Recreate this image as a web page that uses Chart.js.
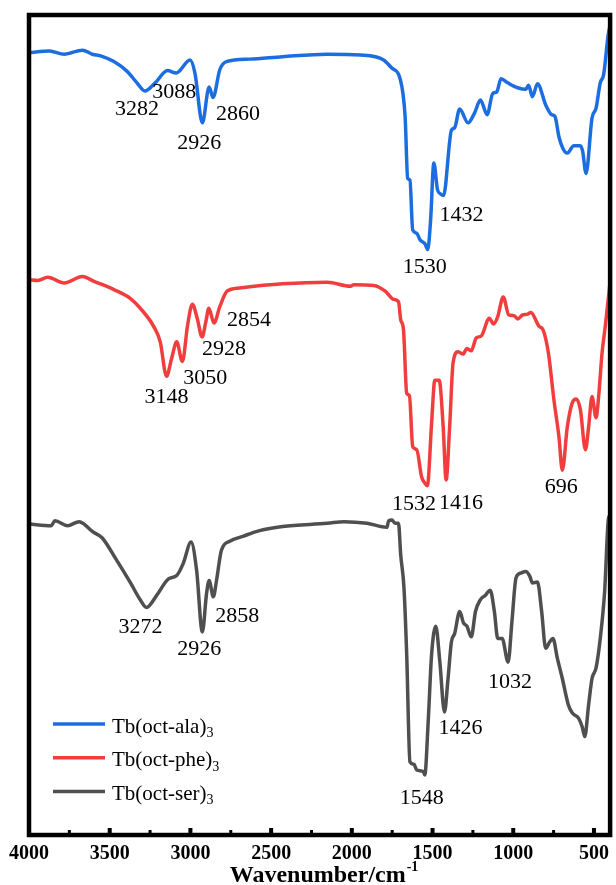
<!DOCTYPE html>
<html>
<head>
<meta charset="utf-8">
<script src="https://cdn.jsdelivr.net/npm/chart.js@4/dist/chart.umd.min.js"></script>
<style>
  html, body { margin: 0; padding: 0; background: #ffffff; }
  canvas { display: block; }
</style>
</head>
<body>
<canvas id="ir" width="616" height="885"></canvas>
<script>
// FT-IR spectra of the three terbium complexes (offset transmittance, a.u.)
const wavenumberAla = [4000,3874,3782,3669,3608,3556,3474,3392,3331,3282,3218,3142,3088,3002,2972,2926,2884,2860,2818,2777,2633,2429,2152,1947,1803,1752,1701,1670,1654,1640,1623,1598,1578,1547,1530,1512,1492,1469,1450,1432,1383,1363,1332,1280,1240,1203,1162,1127,1102,1076,1034,973,922,905,881,850,799,762,742,717,693,665,625,584,570,549,512,487,461,440,413,400];
const transAla = [95.5,95.7,95.3,95.8,95.3,95.1,94.4,93.2,91.8,90.8,91.8,93.3,93.0,94.6,93.0,86.9,91.3,90.0,93.4,94.4,94.7,95.0,95.3,95.2,94.6,93.6,92.3,87.7,80.1,79.9,73.8,73.4,72.6,72.1,71.4,75.0,82.0,78.7,78.2,78.0,86.0,86.3,88.6,86.9,88.1,89.7,87.9,90.5,90.7,92.3,91.8,91.2,91.0,91.5,90.1,91.7,89.1,87.9,87.7,85.2,83.8,83.2,84.1,84.1,83.4,80.7,87.5,88.7,91.8,92.8,97.5,98.9];

const wavenumberPhe = [4000,3946,3884,3782,3669,3597,3474,3371,3310,3228,3187,3148,3116,3085,3050,3017,2988,2958,2928,2904,2886,2854,2818,2773,2695,2429,2152,2009,1988,1865,1793,1742,1711,1697,1680,1660,1643,1623,1598,1568,1547,1532,1506,1486,1459,1434,1416,1394,1373,1342,1311,1287,1260,1229,1199,1148,1123,1096,1062,1028,994,973,942,911,891,840,816,782,748,717,696,665,635,610,584,553,533,512,487,471,450,430,405,400];
const transPhe = [67.7,67.6,68.0,67.3,68.1,67.5,66.5,65.4,64.2,62.0,60.1,55.9,58.1,60.1,57.7,62.2,64.7,63.0,60.7,62.6,64.2,62.4,64.4,66.3,66.7,67.2,67.4,66.9,67.1,67.0,66.3,65.3,65.0,62.8,61.6,53.8,53.5,47.3,46.9,43.6,42.8,42.5,50.1,55.4,55.4,49.7,43.2,49.7,57.5,58.9,58.6,59.3,59.0,60.6,60.8,63.0,62.3,63.2,65.6,63.4,63.3,62.9,63.4,63.5,63.7,62.0,61.6,58.7,53.0,48.5,44.4,49.7,52.6,53.1,51.8,46.9,49.7,53.4,50.8,53.4,58.7,62.0,66.5,67.5];

const wavenumberSer = [4000,3863,3839,3761,3689,3659,3608,3546,3464,3371,3310,3272,3208,3136,3085,3044,2996,2962,2926,2900,2884,2858,2839,2808,2756,2675,2572,2429,2152,2049,1906,1783,1772,1752,1732,1711,1697,1677,1660,1640,1615,1598,1557,1548,1527,1506,1480,1455,1426,1404,1383,1363,1332,1308,1287,1260,1234,1205,1172,1143,1117,1096,1069,1032,1008,983,953,922,897,881,850,824,799,774,754,727,696,659,635,594,573,557,533,512,487,461,434,410,400];
const transSer = [37.8,37.6,38.2,37.6,38.1,37.8,36.9,36.1,33.6,30.6,28.5,27.6,29.1,31.1,31.5,33.0,35.6,32.2,24.6,29.3,30.9,28.9,30.8,34.6,35.7,36.3,37.0,37.5,37.9,38.1,37.9,37.4,38.2,38.3,37.9,37.9,34.0,30.0,21.8,8.7,8.4,7.7,7.5,7.1,13.6,21.8,25.3,21.0,14.8,18.9,23.4,24.4,27.1,25.7,25.3,24.0,27.1,28.5,29.1,29.7,27.1,23.8,23.8,20.9,25.9,31.2,31.8,32.0,31.4,30.6,30.7,27.1,22.6,23.4,23.8,21.4,18.9,15.7,14.7,14.0,13.0,11.8,15.7,18.9,20.2,23.8,29.5,38.5,38.9];

// Assigned band positions (cm-1)
const peaksAla = [3282, 3088, 2926, 2860, 1530, 1432];
const peaksPhe = [3148, 3050, 2928, 2854, 1532, 1416, 696];
const peaksSer = [3272, 2926, 2858, 1548, 1426, 1032];

const seriesNames = ['Tb(oct-ala)', 'Tb(oct-phe)', 'Tb(oct-ser)'];
const seriesSubscript = '3';
const seriesColors = ['#1c6ee0', '#f03e3e', '#4f4f4f'];

const majorTicks = [4000, 3500, 3000, 2500, 2000, 1500, 1000, 500];
const minorTicks = [3750, 3250, 2750, 2250, 1750, 1250, 750];

// Pixel offsets of each band label from its band minimum
const labelOffsets = [
  [[-8, 18.5], [-2, 19.5], [-3, 20.6], [25, 16.5], [-3, 18], [18, 20.1]],
  [[0, 21], [23, 16.6], [22, 12], [35, -2.5], [-13.5, 18.3], [15, 23.3], [-1, 17.5]],
  [[-6, 20.2], [-3, 17.5], [24, 19], [-3, 23], [16, 15.8], [2, 20.2]]
];

const toPoints = (xs, ys) => xs.map((v, i) => ({ x: v, y: ys[i] }));
const peakSets = [peaksAla, peaksPhe, peaksSer];
const spectra = [
  toPoints(wavenumberAla, transAla),
  toPoints(wavenumberPhe, transPhe),
  toPoints(wavenumberSer, transSer)
];

const SERIF = '"Liberation Serif", "Times New Roman", serif';

const decor = {
  id: 'irDecor',
  afterDatasetsDraw(chart) {
    const { ctx, chartArea: a, scales } = chart;
    const x = scales.x, y = scales.y;
    ctx.save();

    // band labels
    ctx.font = '22px ' + SERIF;
    ctx.fillStyle = '#000';
    ctx.textAlign = 'center';
    ctx.textBaseline = 'middle';
    chart.data.datasets.forEach((ds, i) => {
      peakSets[i].forEach((wn, j) => {
        const pt = ds.data.find(p => p.x === wn);
        const [dx, dy] = labelOffsets[i][j];
        ctx.fillText(String(wn), x.getPixelForValue(wn) + dx, y.getPixelForValue(pt.y) + dy);
      });
    });

    // frame
    ctx.lineWidth = 4.5;
    ctx.strokeStyle = '#000';
    ctx.strokeRect(a.left, a.top, a.right - a.left, a.bottom - a.top);

    // inward tick marks
    ctx.fillStyle = '#000';
    majorTicks.forEach(v => {
      const px = x.getPixelForValue(v);
      ctx.fillRect(px - 2, a.bottom - 2 - 5, 4, 5);
    });
    minorTicks.forEach(v => {
      const px = x.getPixelForValue(v);
      ctx.fillRect(px - 1.5, a.bottom - 2 - 3, 3, 3);
    });

    // legend
    const lx = a.left + 24, ly = a.bottom - 111, step = 33.7;
    chart.data.datasets.forEach((ds, i) => {
      const yy = ly + i * step;
      ctx.strokeStyle = ds.borderColor;
      ctx.lineWidth = 3.5;
      ctx.beginPath();
      ctx.moveTo(lx, yy);
      ctx.lineTo(lx + 52, yy);
      ctx.stroke();
      ctx.fillStyle = '#000';
      ctx.textAlign = 'left';
      ctx.textBaseline = 'alphabetic';
      ctx.font = '21px ' + SERIF;
      const name = seriesNames[i];
      ctx.fillText(name, lx + 59, yy + 8.5);
      const w = ctx.measureText(name).width;
      ctx.font = '14px ' + SERIF;
      ctx.fillText(seriesSubscript, lx + 59 + w, yy + 13);
    });

    // axis title with superscript
    const main = 'Wavenumber/cm', sup = '-1';
    ctx.font = 'bold 24px ' + SERIF;
    const wMain = ctx.measureText(main).width;
    ctx.font = 'bold 14px ' + SERIF;
    const wSup = ctx.measureText(sup).width;
    const cx = (a.left + a.right) / 2 + 4;
    const startX = cx - (wMain + wSup) / 2;
    ctx.fillStyle = '#000';
    ctx.textAlign = 'left';
    ctx.textBaseline = 'alphabetic';
    ctx.font = 'bold 24px ' + SERIF;
    ctx.fillText(main, startX, 882);
    ctx.font = 'bold 14px ' + SERIF;
    ctx.fillText(sup, startX + wMain + 1, 871);

    ctx.restore();
  }
};

new Chart(document.getElementById('ir'), {
  type: 'line',
  data: {
    datasets: spectra.map((pts, i) => ({
      label: seriesNames[i] + seriesSubscript,
      data: pts,
      borderColor: seriesColors[i],
      backgroundColor: seriesColors[i],
      borderWidth: 3.5,
      pointRadius: 0,
      fill: false,
      cubicInterpolationMode: 'monotone',
      borderJoinStyle: 'round',
      borderCapStyle: 'round'
    }))
  },
  options: {
    responsive: false,
    animation: false,
    devicePixelRatio: 1,
    layout: { padding: { top: 15, right: 1.5, left: 0, bottom: 0 } },
    plugins: {
      legend: { display: false },
      tooltip: { enabled: false },
      title: { display: false }
    },
    scales: {
      x: {
        type: 'linear',
        reverse: true,
        min: 400,
        max: 4000,
        afterFit: s => { s.height = 50; },
        afterBuildTicks: s => { s.ticks = majorTicks.map(v => ({ value: v })); },
        grid: { display: false, drawTicks: false },
        border: { display: false },
        ticks: {
          autoSkip: false,
          maxRotation: 0,
          padding: 7,
          color: '#000',
          font: { family: SERIF, size: 20, weight: 'bold' },
          callback: v => String(v)
        }
      },
      y: {
        type: 'linear',
        min: -0.25,
        max: 100.1,
        afterFit: s => { s.width = 29; },
        grid: { display: false, drawTicks: false },
        border: { display: false },
        ticks: { display: false }
      }
    }
  },
  plugins: [decor]
});
</script>
</body>
</html>
